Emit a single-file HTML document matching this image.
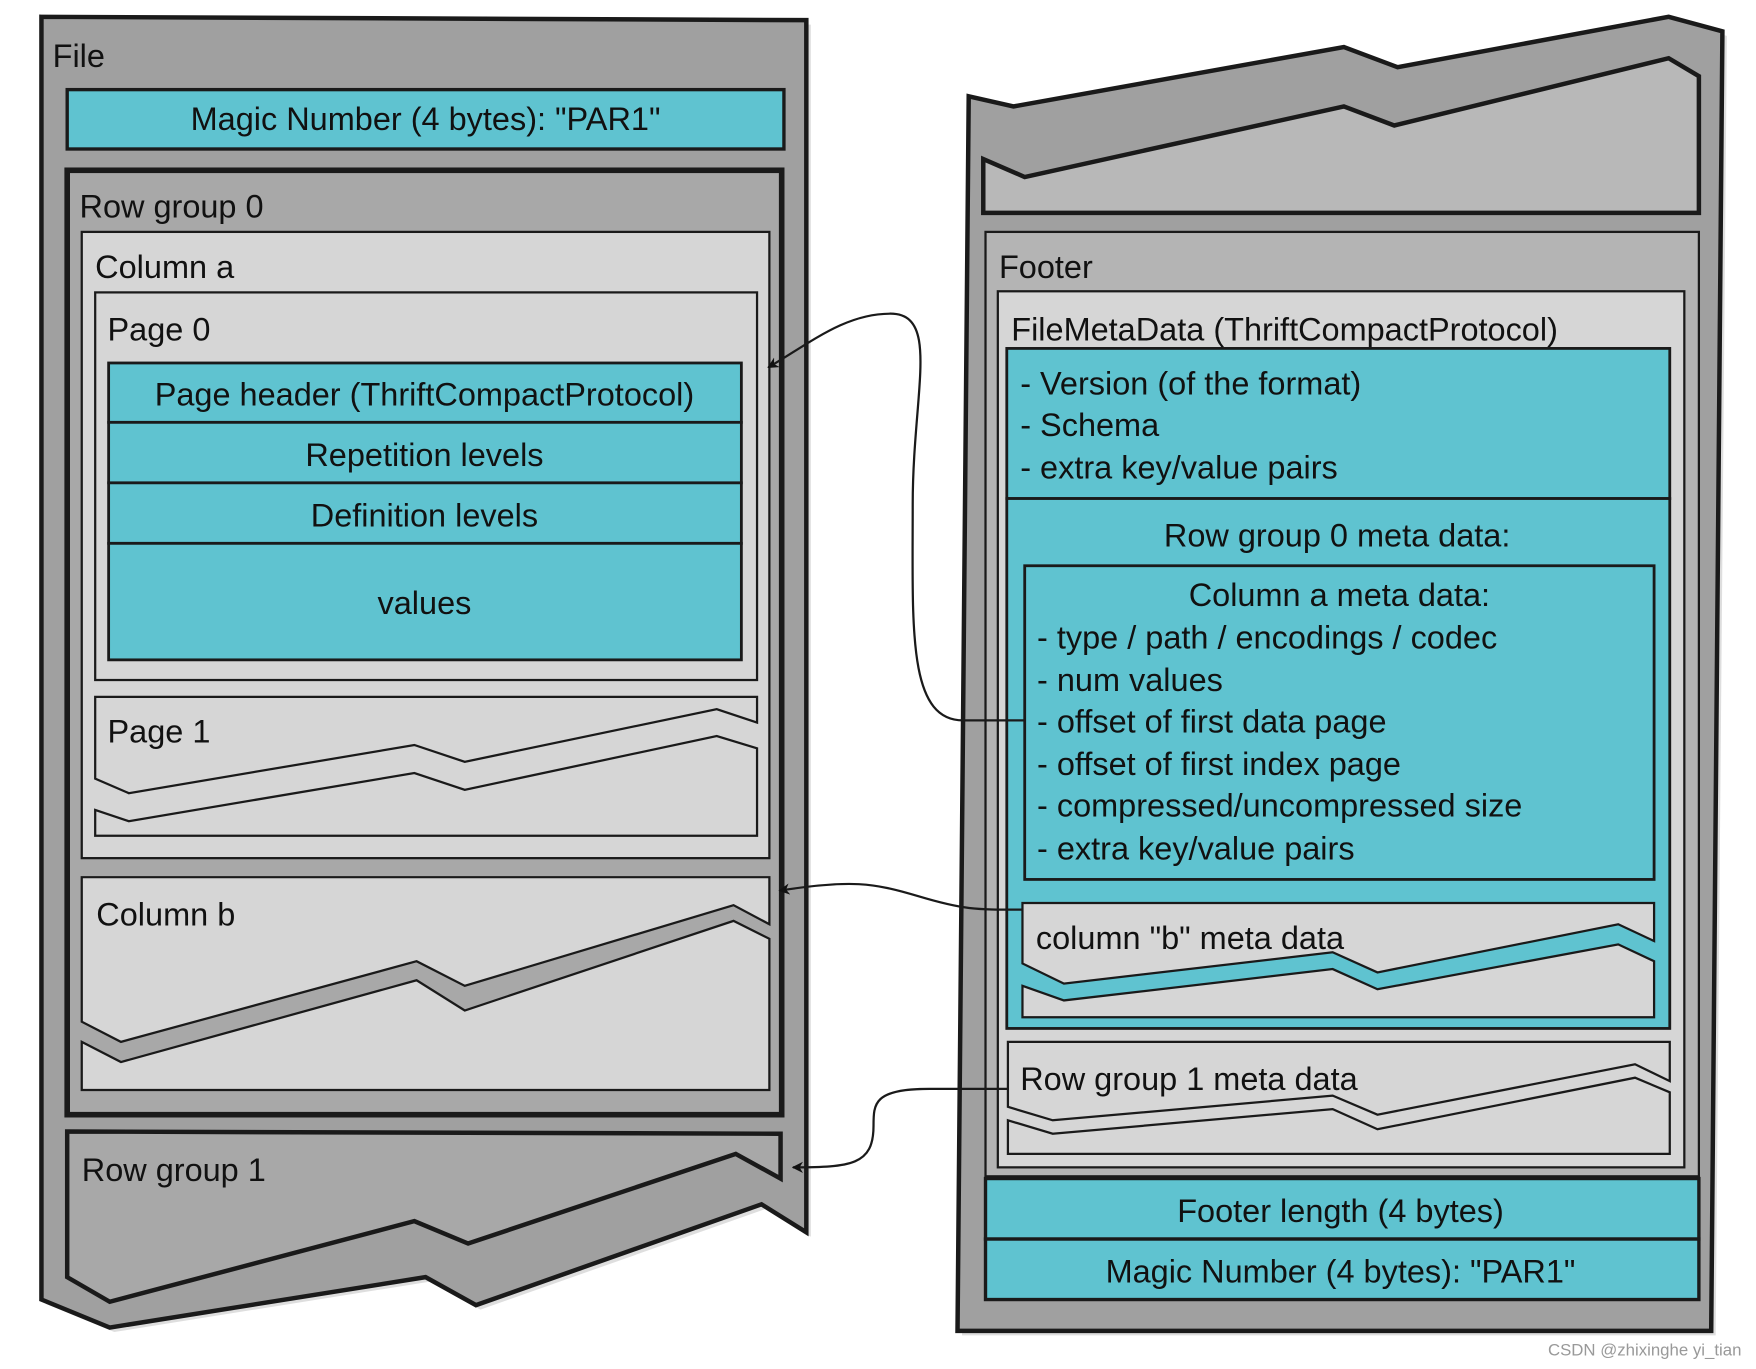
<!DOCTYPE html>
<html><head><meta charset="utf-8"><style>
html,body{margin:0;padding:0;background:#fff;}
svg{display:block;}
text{font-family:"Liberation Sans",sans-serif;font-size:29px;fill:#111;}
</style></head><body>
<svg width="1756" height="1369" viewBox="0 0 1568 1222" preserveAspectRatio="none" xmlns="http://www.w3.org/2000/svg">
<defs>
<marker id="ah" markerWidth="10" markerHeight="10" refX="9" refY="5" orient="auto" markerUnits="userSpaceOnUse"><path d="M0,0 L10,5 L0,10 L3,5 z" fill="#111"/></marker>
</defs>
<g stroke="#1a1a1a" stroke-linejoin="miter">
<!-- LEFT FILE -->
<polygon points="41,19 724,22 724,1104 684,1079 429,1169 384,1144 102,1189 41,1164" fill="#c8c8c8" stroke="none" opacity="0.6"/>
<polygon points="37,15 720,18 720,1100 680,1075 425,1165 380,1140 98,1185 37,1160" fill="#a0a0a0" stroke-width="4"/>
<rect x="60" y="80" width="640" height="53" fill="#5fc3d0" stroke-width="3"/>
<rect x="60" y="152" width="638" height="843" fill="#a8a8a8" stroke-width="5"/>
<rect x="73" y="207" width="614" height="559" fill="#d6d6d6" stroke-width="2"/>
<rect x="85" y="261" width="591" height="346" fill="#d6d6d6" stroke-width="2"/>
<rect x="97" y="324" width="565" height="53" fill="#5fc3d0" stroke-width="2.5"/>
<rect x="97" y="377" width="565" height="54" fill="#5fc3d0" stroke-width="2.5"/>
<rect x="97" y="431" width="565" height="54" fill="#5fc3d0" stroke-width="2.5"/>
<rect x="97" y="485" width="565" height="104" fill="#5fc3d0" stroke-width="2.5"/>
<polygon points="85,622 676,622 676,645 640,633 415,680 370,665 115,708 85,695" fill="#d6d6d6" stroke-width="2"/>
<polygon points="85,723 115,733 370,690 415,705 640,657 676,668 676,746 85,746" fill="#d6d6d6" stroke-width="2"/>
<polygon points="73,930 108,948 372,875 415,902 655,822 687,838 687,973 73,973" fill="#d6d6d6" stroke-width="2"/>
<polygon points="73,783 687,783 687,825 655,808 415,880 372,858 108,930 73,912" fill="#d6d6d6" stroke-width="2"/>
<polygon points="60,1010 697,1012 697,1052 657,1030 418,1110 370,1090 98,1162 60,1140" fill="#a8a8a8" stroke-width="4"/>
<!-- RIGHT -->
<polygon points="869,90 909,99 1204,46 1252,64 1494,19 1542,32 1532,1192 859,1192" fill="#c8c8c8" stroke="none" opacity="0.6"/>
<polygon points="865,86 905,95 1200,42 1248,60 1490,15 1538,28 1528,1188 855,1188" fill="#a0a0a0" stroke-width="4"/>
<polygon points="878,142 915,158 1200,95 1245,112 1490,52 1517,68 1517,190 878,190" fill="#b8b8b8" stroke-width="4"/>
<rect x="880" y="207" width="637" height="843" fill="#b4b4b4" stroke-width="2"/>
<rect x="891" y="260" width="613" height="782" fill="#d6d6d6" stroke-width="2"/>
<rect x="899" y="311" width="592" height="134" fill="#5fc3d0" stroke-width="2.5"/>
<rect x="899" y="445" width="592" height="473" fill="#5fc3d0" stroke-width="2.5"/>
<rect x="915" y="505" width="562" height="280" fill="#5fc3d0" stroke-width="2.5"/>
<polygon points="913,806 1477,806 1477,840 1445,825 1230,868 1190,850 950,878 913,860" fill="#d6d6d6" stroke-width="2"/>
<polygon points="913,880 950,893 1190,865 1230,883 1445,843 1477,858 1477,908 913,908" fill="#d6d6d6" stroke-width="2"/>
<polygon points="900,930 1491,930 1491,965 1460,950 1230,995 1190,978 940,1000 900,988" fill="#d6d6d6" stroke-width="2"/>
<polygon points="900,1000 940,1012 1190,990 1230,1008 1460,962 1491,975 1491,1030 900,1030" fill="#d6d6d6" stroke-width="2"/>
<rect x="880" y="1052" width="637" height="54" fill="#5fc3d0" stroke-width="3"/>
<rect x="880" y="1106" width="637" height="54" fill="#5fc3d0" stroke-width="3"/>
<!-- connectors -->
<path d="M915,643 L860,643 C810,643 815,560 815,450 C815,350 840,280 795,280 C755,280 725,305 686,328" fill="none" stroke-width="2" marker-end="url(#ah)"/>
<path d="M913,812 C870,812 860,812 820,800 C780,788 760,785 696,795" fill="none" stroke-width="2" marker-end="url(#ah)"/>
<path d="M900,972 L830,972 C780,972 780,985 780,1005 C780,1040 760,1042 708,1042" fill="none" stroke-width="2" marker-end="url(#ah)"/>
</g>
<text x="47" y="60">File</text>
<text x="380" y="116" text-anchor="middle">Magic Number (4 bytes): "PAR1"</text>
<text x="71" y="194">Row group 0</text>
<text x="85" y="248">Column a</text>
<text x="96" y="304">Page 0</text>
<text x="379" y="362" text-anchor="middle">Page header (ThriftCompactProtocol)</text>
<text x="379" y="416" text-anchor="middle">Repetition levels</text>
<text x="379" y="470" text-anchor="middle">Definition levels</text>
<text x="379" y="548" text-anchor="middle">values</text>
<text x="96" y="663">Page 1</text>
<text x="86" y="826">Column b</text>
<text x="73" y="1054">Row group 1</text>
<text x="892" y="248">Footer</text>
<text x="903" y="304">FileMetaData (ThriftCompactProtocol)</text>
<text x="911" y="352">- Version (of the format)</text>
<text x="911" y="389">- Schema</text>
<text x="911" y="427">- extra key/value pairs</text>
<text x="1194" y="488" text-anchor="middle">Row group 0 meta data:</text>
<text x="1196" y="541" text-anchor="middle">Column a meta data:</text>
<text x="926" y="579">- type / path / encodings / codec</text>
<text x="926" y="617">- num values</text>
<text x="926" y="654">- offset of first data page</text>
<text x="926" y="692">- offset of first index page</text>
<text x="926" y="729">- compressed/uncompressed size</text>
<text x="926" y="767">- extra key/value pairs</text>
<text x="925" y="847">column "b" meta data</text>
<text x="911" y="973">Row group 1 meta data</text>
<text x="1197" y="1091" text-anchor="middle">Footer length (4 bytes)</text>
<text x="1197" y="1145" text-anchor="middle">Magic Number (4 bytes): "PAR1"</text>
<text x="1555" y="1210" text-anchor="end" style="font-size:15px;fill:#999">CSDN @zhixinghe yi_tian</text>
</svg>
</body></html>
